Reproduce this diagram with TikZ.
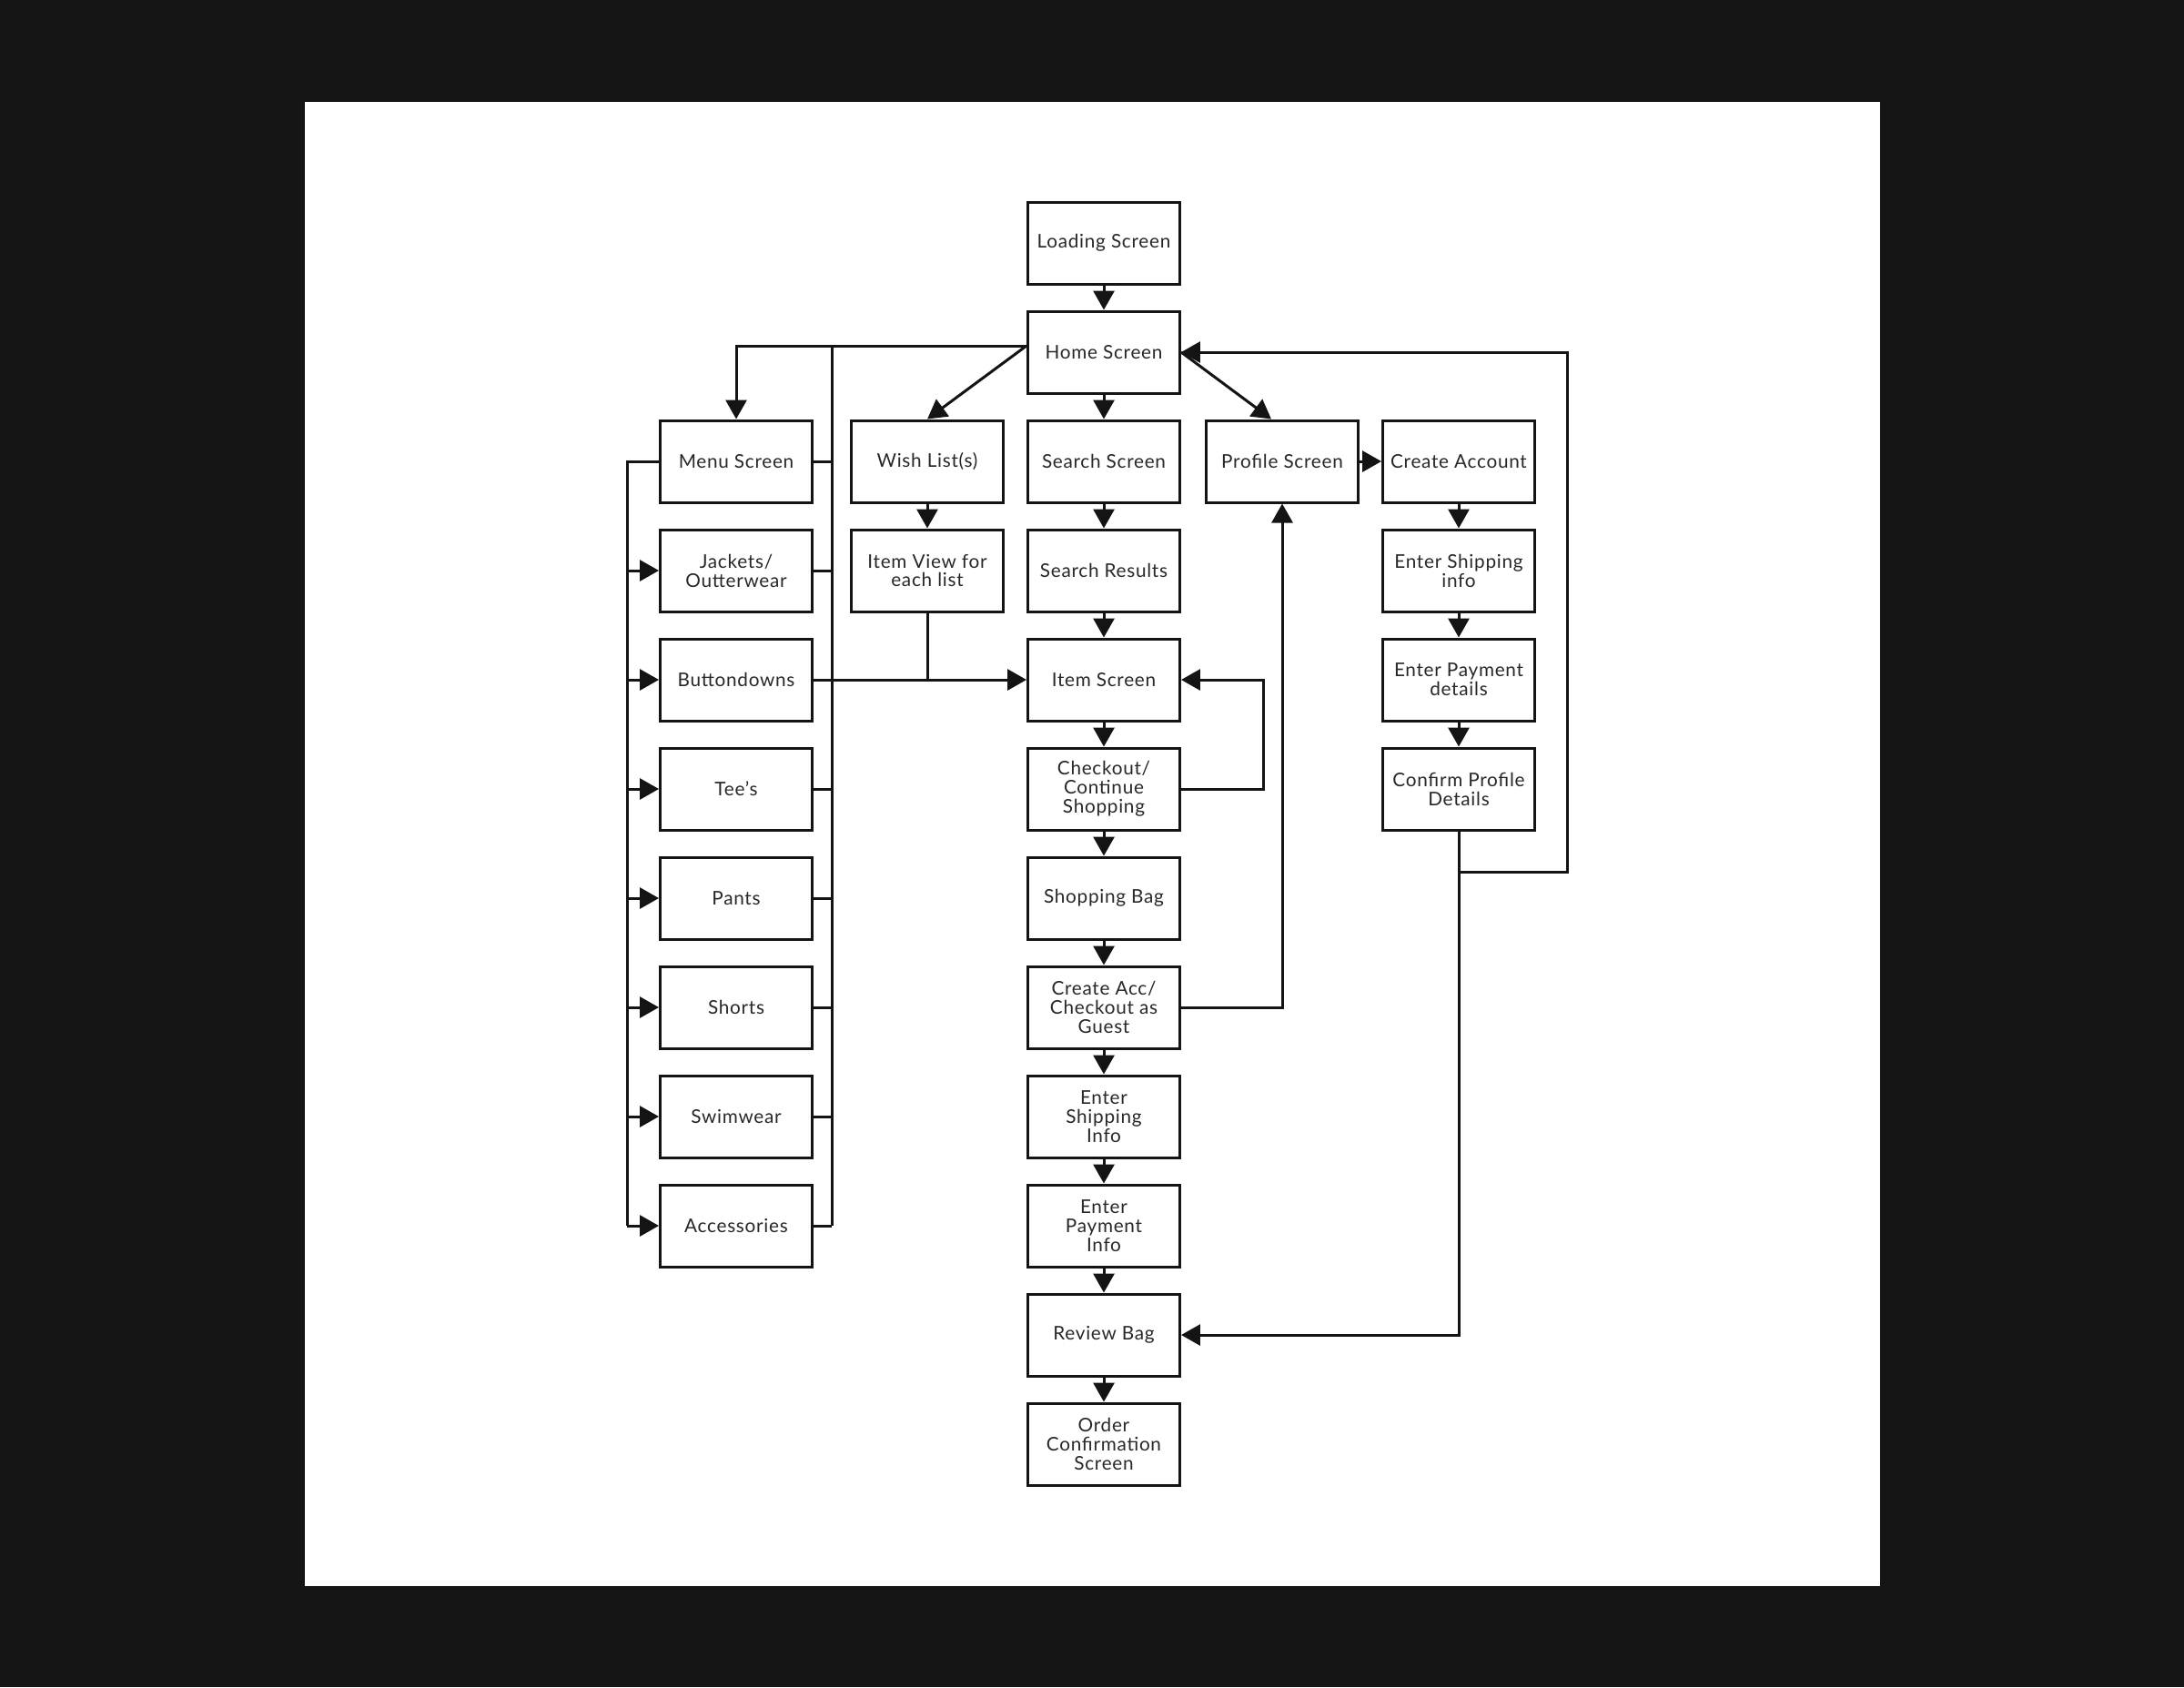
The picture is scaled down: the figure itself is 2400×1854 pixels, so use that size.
\documentclass[tikz,border=0pt]{standalone}
\usepackage{fontspec}
\setmainfont{Lato}[LetterSpace=3.5]
\usetikzlibrary{arrows.meta,calc}
\definecolor{felt}{RGB}{21,21,21}
\definecolor{ink}{RGB}{20,20,20}
\definecolor{type}{RGB}{40,40,40}
\begin{document}
\begin{tikzpicture}[x=0.02cm,y=-0.02cm,
  screen/.style={draw=ink,line width=0.06cm,fill=white,minimum width=3.34cm,minimum height=1.8cm,
    inner sep=0pt,align=center,font=\fontsize{11.8}{11.9}\selectfont,text=type},
  link/.style={draw=ink,line width=0.06cm},
  arr/.style={link,-{Triangle[length=0.42cm,width=0.46cm]}}]
% canvas and paper sheet
\useasboundingbox (0,0) rectangle (2400,1854);
\fill[felt] (0,0) rectangle (2400,1854);
\fill[white] (335,112) rectangle (2066,1743);

% screens
\node[screen] (load)     at (1213,267)  {Loading Screen};
\node[screen] (home)     at (1213,387)  {Home Screen};
\node[screen] (menu)     at (809,507)   {Menu Screen};
\node[screen] (wish)     at (1019,507)  {Wish List(s)};
\node[screen] (search)   at (1213,507)  {Search Screen};
\node[screen] (profile)  at (1409,507)  {Profile Screen};
\node[screen] (create)   at (1603,507)  {Create Account};
\node[screen] (jackets)  at (809,627)   {Jackets/\\Outterwear};
\node[screen] (itemview) at (1019,627)  {Item View for\\each list};
\node[screen] (results)  at (1213,627)  {Search Results};
\node[screen] (shipA)    at (1603,627)  {Enter Shipping\\info};
\node[screen] (buttons)  at (809,747)   {Buttondowns};
\node[screen] (item)     at (1213,747)  {Item Screen};
\node[screen] (payA)     at (1603,747)  {Enter Payment\\details};
\node[screen] (tees)     at (809,867)   {Tee’s};
\node[screen] (checkout) at (1213,867)  {Checkout/\\Continue\\Shopping};
\node[screen] (confirm)  at (1603,867)  {Confirm Profile\\Details};
\node[screen] (pants)    at (809,987)   {Pants};
\node[screen] (bag)      at (1213,987)  {Shopping Bag};
\node[screen] (shorts)   at (809,1107)  {Shorts};
\node[screen] (guest)    at (1213,1107) {Create Acc/\\Checkout as\\Guest};
\node[screen] (swim)     at (809,1227)  {Swimwear};
\node[screen] (shipB)    at (1213,1227) {Enter\\Shipping\\Info};
\node[screen] (access)   at (809,1347)  {Accessories};
\node[screen] (payB)     at (1213,1347) {Enter\\Payment\\Info};
\node[screen] (review)   at (1213,1467) {Review Bag};
\node[screen] (order)    at (1213,1587) {Order\\Confirmation\\Screen};

% routing points
\coordinate (hl) at ($(home.west)+(0,-7)$);
\coordinate (rbus) at (914,380);
\coordinate (lbus) at (689,507);
\coordinate (loopI) at (1388,867);
\coordinate (jn) at (1603,958);
\coordinate (loopH) at (1722,958);

% main column
\foreach \a/\b in {load/home,home/search,search/results,results/item,item/checkout,
  checkout/bag,bag/guest,guest/shipB,shipB/payB,payB/review,review/order,
  wish/itemview,create/shipA,shipA/payA,payA/confirm}
  \draw[arr] (\a) -- (\b);
\draw[arr] (profile) -- (create);

% home branches
\draw[arr] (hl) -| (menu.north);
\draw[arr] (hl) -- (wish.north);
\draw[arr] (home.east) -- ($(profile.north)+(-12,0)$);

% category buses
\draw[link] (menu.west) -- (menu.west -| lbus) -- (lbus |- access.west);
\foreach \n in {jackets,buttons,tees,pants,shorts,swim,access}
  \draw[arr] (\n.west -| lbus) -- (\n.west);
\draw[link] (rbus) -- (rbus |- access.east);
\foreach \n in {menu,jackets,buttons,tees,pants,shorts,swim,access}
  \draw[link] (\n.east) -- (\n.east -| rbus);

% into the item screen
\draw[arr] (buttons.east) -- (item.west);
\draw[link] (itemview.south) -- (itemview.south |- item.west);
\draw[arr] (checkout.east) -- (loopI) |- (item.east);

% account paths
\draw[arr] (guest.east) -| (profile.south);
\draw[link] (confirm.south) -- (jn);
\draw[arr] (jn) -- (loopH) |- (home.east);
\draw[arr] (jn) |- (review.east);
\end{tikzpicture}
\end{document}
